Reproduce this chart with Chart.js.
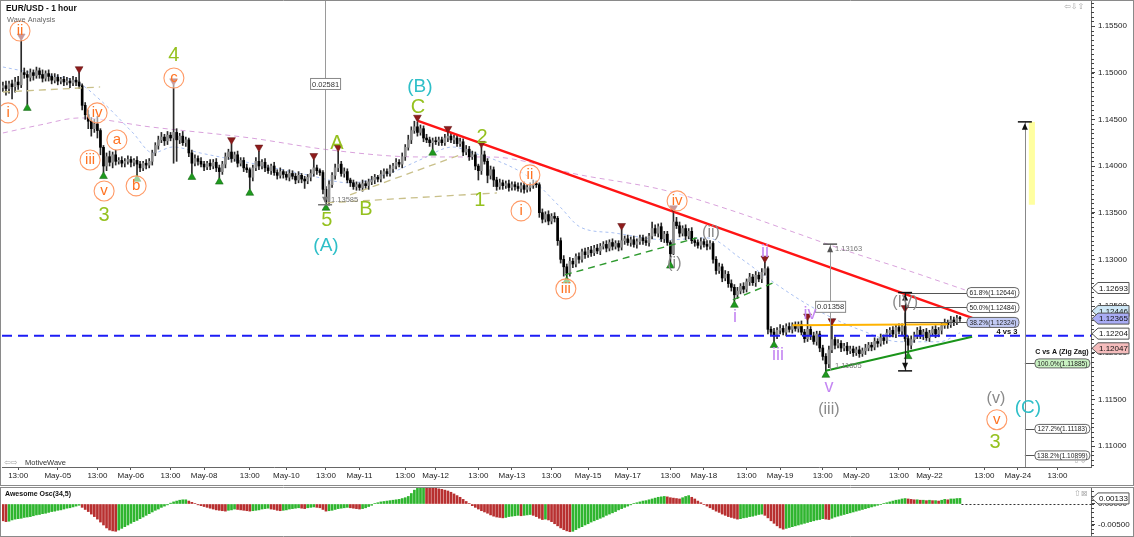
<!DOCTYPE html>
<html><head><meta charset="utf-8">
<script src="https://cdn.jsdelivr.net/npm/chart.js@4.4.1/dist/chart.umd.min.js"></script>
<style>
html,body{margin:0;padding:0;background:#fff;}
#wrap{position:relative;width:1134px;height:537px;overflow:hidden;background:#fff;}
#main{position:absolute;left:0;top:0;}
#osc{position:absolute;left:0;top:487px;}
</style></head><body>
<div id="wrap"><canvas id="main" width="1134" height="486"></canvas><canvas id="osc" width="1134" height="50"></canvas></div>
<script>
const FONT = "'Liberation Sans', Arial, sans-serif";

// ---------- price data (pips above 1.1000, hourly bars) ----------
const firstOpen = 484;
const closes = [
486,483,488,485,490,487,500,498,495,500,
497,502,498,494,499,496,492,495,491,493,
490,491,489,492,490,486,465,455,448,440,
445,438,420,400,410,404,412,405,406,403,
405,407,404,406,402,398,403,401,405,414,
422,428,431,427,433,430,436,428,432,425,
428,414,403,408,405,402,399,403,400,404,
398,394,402,410,415,408,412,403,406,398,
396,388,398,405,400,404,398,395,400,393,
390,394,391,388,392,389,385,390,386,384,
388,392,398,395,393,375,362,380,390,398,
402,392,394,385,382,378,380,377,381,379,
383,385,388,386,391,394,392,397,400,404,
402,410,420,428,438,442,436,440,430,428,
425,427,426,428,425,430,432,428,430,424,
426,415,418,410,412,400,395,412,405,390,
396,385,378,382,379,381,377,380,378,376,
379,375,377,379,381,380,350,343,348,341,
346,344,320,300,292,285,298,295,303,300,
308,305,310,307,312,309,314,316,312,318,
314,317,313,320,322,318,321,316,319,323,
320,318,325,333,328,335,322,327,318,306,
340,336,328,333,325,330,320,318,315,319,
316,314,317,300,288,292,280,284,274,270,
262,266,271,268,276,281,275,283,279,286,
290,225,222,218,224,226,222,228,225,229,
226,230,222,215,225,218,212,220,205,196,
188,203,214,208,210,205,207,202,204,200,
203,199,202,205,208,206,212,210,216,213,
221,224,220,227,223,228,215,208,214,219,
224,218,222,216,221,225,220,224,229,232,
230,235,233,237,236.5];
const wickUp = [
4,5,3,4,5,6,35,5,4,4, 3,4,3,5,3,4,3,4,3,2, 3,4,3,4,3,10,2,3,5,4, 5,8,2,2,4,6,3,5,3,4,
3,4,3,2,4,3,2,4,3,3, 3,4,5,3,4,3,51,4,3,5, 3,2,3,4,3,4,3,2,4,3, 4,3,3,4,3,9,3,4,3,3,
4,2,3,4,11,3,4,3,2,4, 3,4,2,3,4,3,3,4,2,3, 3,4,9,3,2,2,3,4,3,4, 14,3,4,3,2,3,3,2,4,3,
3,4,3,2,4,3,3,4,3,4, 3,4,3,5,4,6,5,4,3,4, 3,3,4,3,3,4,4,3,3,3, 4,3,4,3,4,3,2,8,4,3,
4,3,3,4,3,3,4,3,3,4, 3,4,3,3,4,3,2,4,3,4, 3,4,2,3,4,3,4,3,3,4, 3,4,3,4,3,4,3,3,4,3,
4,3,3,12,3,4,3,4,3,3, 3,4,3,7,4,3,4,3,3,2, 11,5,4,3,4,3,4,3,3,4, 3,4,3,2,3,4,3,4,3,4,
3,4,3,4,3,4,3,4,3,4, 7,2,3,4,3,4,3,3,4,3, 4,3,4,3,10,3,4,3,3,3, 3,4,16,3,4,3,3,4,3,3,
3,4,3,4,3,3,4,3,4,3, 4,3,4,3,4,3,15,3,4,3, 3,4,3,4,3,3,4,3,3,4, 3,4,3,3,2];
const wickDown = [
4,7,5,13,6,5,3,4,29,4, 5,3,4,4,3,5,4,3,4,3, 4,3,5,3,4,3,5,5,8,8, 4,8,8,7,5,4,6,4,3,4,
4,3,5,4,12,4,3,4,3,4, 3,4,3,5,4,3,27,23,4,3, 4,4,11,3,4,3,4,3,4,3, 4,7,3,4,3,4,3,4,3,4,
3,13,4,3,4,3,4,3,4,3, 4,3,4,3,4,3,4,3,4,8, 3,4,3,4,3,5,3.5,4,3,4, 4,3,4,3,4,3,4,3,4,3,
4,3,4,3,3,4,3,3,4,3, 3,4,4,3,4,3,4,3,4,3, 4,7,3,4,3,3,4,3,4,3, 3,4,3,4,3,4,10,4,3,8,
4,7,4,3,4,3,4,3,4,3, 4,4,3,4,3,3,5,4,3,4, 3,4,5,4,10,4,3,4,3,4, 3,4,3,4,3,3,4,3,4,3,
4,3,4,3,4,3,4,3,4,3, 4,3,4,3,3,4,3,4,3,9, 1,3,4,3,4,3,3,4,3,4, 3,4,3,4,4,3,4,3,4,4,
7,4,3,4,3,4,3,4,3,4, 3,5,3,6,3,4,3,4,3,4, 3,4,3,4,3,4,3,4,4,4, 7.5,4,3,4,3,4,3,4,3,4,
3,4,3,4,3,4,3,4,3,4, 3,4,3,4,3,4,3,8,4,3, 4,3,4,3,4,3,4,3,4,3, 4,3,4,3,3];

// Awesome Oscillator (units of 0.0001)
const aoValues = [
-40,-42,-41,-38,-36,-35,-34,-32,-31,-30, -28,-26,-25,-23,-22,-20,-18,-17,-15,-14,
-12,-10,-9,-7,-5,-3,-8,-13,-18,-24, -30,-36,-43,-50,-57,-62,-64,-65,-62,-58,
-54,-50,-46,-42,-39,-35,-31,-27,-23,-19, -15,-12,-8,-5,-2,2,5,7,9,10,
10,7,4,1,-2,-4,-6,-8,-10,-12, -14,-15,-16,-17,-15,-14,-12,-13,-14,-15,
-16,-17,-16,-15,-14,-12,-11,-10,-12,-13, -15,-16,-15,-14,-12,-11,-10,-9,-10,-11,
-9,-8,-7,-8,-9,-13,-17,-16,-15,-13, -11,-10,-9,-8,-9,-10,-11,-12,-11,-9,
-6,-3,1,3,5,6,7,8,9,10, 11,13,15,18,25,33,40,45,47,46,
43,40,38,36,35,33,31,28,24,20, 16,11,6,1,-4,-8,-12,-16,-19,-22,
-26,-29,-31,-32,-33,-32,-30,-29,-28,-27, -28,-27,-26,-25,-27,-30,-34,-37,-36,-38,
-42,-47,-52,-57,-61,-64,-66,-65,-61,-57, -54,-50,-47,-43,-40,-37,-34,-31,-27,-24,
-21,-18,-14,-11,-8,-5,-2,1,3,5, 7,8,10,12,14,16,17,18,17,15,
14,13,12,15,18,20,16,12,7,3, -1,-5,-9,-13,-17,-20,-24,-27,-30,-32,
-34,-36,-35,-33,-32,-30,-29,-27,-25,-24, -27,-33,-40,-46,-52,-57,-60,-58,-56,-54,
-52,-50,-48,-46,-44,-42,-40,-38,-37,-35, -36,-37,-34,-31,-29,-27,-25,-23,-21,-19,
-17,-15,-13,-11,-9,-7,-5,-3,-1,1, 3,5,7,9,10,12,13,12,11,10,
10,9,9,8,9,8,8,7,9,11, 10,12,12,13,13.3];

// ---------- axes ----------
const xTickBars   = [5,18,31,42,55,66,81,93,106,117,132,142,156,167,180,192,205,219,230,244,255,269,280,294,304,322,333,346];
const xTickLabels = ['13:00','May-05','13:00','May-06','13:00','May-08','13:00','May-10','13:00','May-11','13:00','May-12','13:00','May-13','13:00','May-15','May-17','13:00','May-18','13:00','May-19','13:00','May-20','13:00','May-22','13:00','May-24','13:00'];
const yMajorTicks = [1.110,1.115,1.120,1.125,1.130,1.135,1.140,1.145,1.150,1.155];
const oscTicks = [-0.005, 0];

// ---------- drawn studies ----------
const blueLevelBars=[-0.3,357], blueLevelPrices=[1.12181,1.12181];
const redTrendBars=[136.2,318], redTrendPrices=[1.14483,1.12374];
const greenTrendBars=[270,318], greenTrendPrices=[1.11806,1.12170];
const orangeLevelBars=[259,310], orangeLevelPrices=[1.12295,1.12305];
const khaki1Bars=[0,31.9], khaki1Prices=[1.14793,1.14847];
const khaki2Bars=[106.3,162.1], khaki2Prices=[1.13605,1.13712];
const khaki3Bars=[113.9,150], khaki3Prices=[1.13691,1.14119];
const greenDash1Bars=[184.4,227.7], greenDash1Prices=[1.12834,1.13230];
const greenDash2Bars=[239.5,252.7], greenDash2Prices=[1.12566,1.12748];
const slowMaBars=[0,12.2,25.3,48.3,81.1,107.3,136.8,159.8,189.3,216.6,238.5,257.3,277.9,294.3,315.6];
const slowMaPrices=[1.14354,1.14440,1.14515,1.14419,1.14301,1.14172,1.14097,1.14097,1.13905,1.13744,1.13530,1.13316,1.13080,1.12909,1.12673];
const fastMaBars=[0,9.9,24.3,31.9,42.7,49.2,55.8,64.7,81.1,99.8,113.9,128,136.8,147.7,154.2,159.8,172.9,182.8,189.3,200.2,217.9,231,241.8,251.7,261.5,271.4,281.2,294.3,307.4,314];
const fastMaPrices=[1.15061,1.14997,1.14900,1.14708,1.14354,1.14140,1.14204,1.14140,1.14033,1.13905,1.13819,1.13937,1.14065,1.14204,1.14140,1.14087,1.13873,1.13562,1.13348,1.13284,1.13209,1.13230,1.13016,1.12780,1.12566,1.12384,1.12245,1.12117,1.12117,1.12213];

const redTriBars=[6,25,56,75,84,102,110,136,146,157,203,220,250,264,272,296];
const redTriPrices=[1.1539,1.1504,1.1491,1.1428,1.1420,1.1411,1.1420,1.1452,1.1440,1.1424,1.1336,1.1355,1.1301,1.1239,1.1234,1.1248];
const greenTriBars=[8,33,44,62,71,81,106,141,185,219,240,253,270,297];
const greenTriPrices=[1.1462,1.1389,1.1386,1.1388,1.1383,1.1371,1.1355,1.1414,1.1277,1.1293,1.1251,1.1208,1.1176,1.1196];

const waveText =['ii','i','iv','a','iii','v','b','c','ii','i','iii','iv','v',
 '4','3','A','5','B','C','2','1','3',
 '(A)','(B)','(C)',
 '(i)','(ii)','(iii)','(IV)','(v)',
 'ii','i','iii','iv','v'];
const waveGroup=['o','o','o','o','o','o','o','o','o','o','o','o','o',
 'g','g','g','g','g','g','g','g','g',
 'c','c','c',
 's','s','s','s','s',
 'v','v','v','v','v'];
const waveBar  =[5.6,1.7,30.9,37.4,28.6,33.2,43.7,56.1,172.9,170,184.7,221.2,326.1,
 56.1,33.2,109.6,106.3,119.1,136.2,157.2,156.5,325.5,
 106,136.8,336.3,
 220.3,232.3,271,296,325.8,
 250,240.2,254.3,264.8,271];
const wavePrice=[1.15446,1.14569,1.14569,1.14279,1.14065,1.13733,1.13787,1.14943,1.13905,1.13519,1.12684,1.13626,1.11282,
 1.15190,1.13476,1.14247,1.13423,1.13541,1.14633,1.14312,1.13637,1.11046,
 1.13155,1.14858,1.11421,
 1.12963,1.13294,1.11399,1.12545,1.11517,
 1.13091,1.12395,1.11988,1.12427,1.11646];

const measureBars=[105.7,271.4,296,335.3];
const measureFrom=[1.13585,1.11805,1.11805,1.10775];
const measureTo  =[1.16166,1.13163,1.12644,1.14473];
const measureText=['0.02581','0.01358','',''];
const measureTextPrice=[1.14879,1.12491,0,0];
const targetBoxBars=[336.6,338.6], targetBoxPrices=[1.14473,1.13585];

const fibLevels=[1.12644,1.12484,1.12324], fibPcts=['61.8%','50.0%','38.2%'];
const fibFromBar=296, fibLabelBar=316.3;
const cvaLevels=[1.11885,1.11183,1.10899], cvaPcts=['100.0%','127.2%','138.2%'];
const cvaBar=335.3;
const axisMarkPrices=[1.12693,1.12446,1.12365,1.12204,1.12047];
const axisMarkFills=['#ffffff','#cfe8f7','#a9acf5','#ffffff','#f5bcbc'];
const aoLast=0.00133;

// ---------- build datasets ----------
const P = v => 1.1 + v/10000;
const opens = closes.map((c,i)=> i===0 ? firstOpen : closes[i-1]);
const wickData = closes.map((c,i)=>({x:i, y:[P(Math.min(opens[i],c)-wickDown[i]), P(Math.max(opens[i],c)+wickUp[i])]}));
const bodyData = closes.map((c,i)=>({x:i, y:[P(Math.min(opens[i],c)), P(Math.max(opens[i],c))]}));
const bodyColors = closes.map((c,i)=> c>=opens[i] ? '#8a8a8a' : '#000000');
const pts = (bs,ps)=> bs.map((b,k)=>({x:b,y:ps[k]}));
function lineDS(bs,ps,color,width,dash,order,tension){
  return {type:'line',data:pts(bs,ps),borderColor:color,borderWidth:width,borderDash:dash||[],pointRadius:0,fill:false,order:order,tension:tension||0,cubicInterpolationMode: tension?'monotone':'default'};
}
const noPad = s => { s.paddingTop=0; s.paddingBottom=0; s.paddingLeft=0; s.paddingRight=0; };

const X=(c,v)=>c.scales.x.getPixelForValue(v);
const Y=(c,v)=>c.scales.y.getPixelForValue(v);
function rrect(ctx,x,y,w,h,r){ctx.beginPath();ctx.moveTo(x+r,y);ctx.arcTo(x+w,y,x+w,y+h,r);ctx.arcTo(x+w,y+h,x,y+h,r);ctx.arcTo(x,y+h,x,y,r);ctx.arcTo(x,y,x+w,y,r);ctx.closePath();}
function tbar(ctx,x,y,dir,col){
  ctx.strokeStyle=col;ctx.lineWidth=1.5;ctx.beginPath();ctx.moveTo(x-7,y);ctx.lineTo(x+7,y);ctx.stroke();
  ctx.fillStyle=col;ctx.beginPath();ctx.moveTo(x,y+dir*1.5);ctx.lineTo(x-3,y+dir*8);ctx.lineTo(x+3,y+dir*8);ctx.closePath();ctx.fill();
}
const waveStyles={
  o:{color:'#ff7322',size:15,circle:true,r:10,ring:'#ff9a66'},
  g:{color:'#95c11f',size:20},
  c:{color:'#2ebfc8',size:19},
  s:{color:'#8a8a8a',size:16},
  v:{color:'#c486f2',size:18}
};

const mainDecor={
  id:'mainDecor',
  afterDatasetsDraw(c){
    const ctx=c.ctx,a=c.chartArea;
    ctx.save();
    ctx.beginPath();ctx.rect(a.left,a.top,a.right-a.left,a.bottom-a.top);ctx.clip();
    const bx0=X(c,targetBoxBars[0]),bx1=X(c,targetBoxBars[1]),by0=Y(c,targetBoxPrices[0]),by1=Y(c,targetBoxPrices[1]);
    ctx.fillStyle='rgba(255,255,150,0.9)';ctx.fillRect(bx0,by0,bx1-bx0,by1-by0);
    ctx.strokeStyle='#555';ctx.lineWidth=1;
    fibLevels.forEach(l=>{const y=Math.round(Y(c,l))+0.5;ctx.beginPath();ctx.moveTo(X(c,fibFromBar),y);ctx.lineTo(X(c,fibLabelBar),y);ctx.stroke();});
    cvaLevels.forEach(l=>{const y=Math.round(Y(c,l))+0.5;ctx.beginPath();ctx.moveTo(X(c,cvaBar),y);ctx.lineTo(X(c,cvaBar)+10,y);ctx.stroke();});
    const mcol=['#9a9a9a','#9a9a9a','#222','#888'];
    measureBars.forEach((b,k)=>{
      const x=Math.round(X(c,b))+0.5;
      ctx.strokeStyle=mcol[k];ctx.lineWidth=k===2?1.2:1;
      ctx.beginPath();ctx.moveTo(x,Y(c,measureFrom[k]));ctx.lineTo(x,Y(c,measureTo[k]));ctx.stroke();
    });
    tbar(ctx,X(c,measureBars[0]),Y(c,measureFrom[0]),-1,'#777');
    tbar(ctx,X(c,measureBars[1]),Y(c,measureTo[1]),1,'#555');
    tbar(ctx,X(c,measureBars[2]),Y(c,measureTo[2]),1,'#111');
    tbar(ctx,X(c,measureBars[2]),Y(c,measureFrom[2]),-1,'#111');
    tbar(ctx,X(c,measureBars[3]),Y(c,measureTo[3]),1,'#111');
    ctx.restore();
    ctx.save();
    ctx.font='7.5px '+FONT;ctx.textAlign='center';ctx.textBaseline='middle';
    [0,1].forEach(k=>{
      const x=X(c,measureBars[k]),y=Y(c,measureTextPrice[k]);
      ctx.fillStyle='#fff';ctx.strokeStyle='#888';ctx.lineWidth=1;
      ctx.fillRect(x-14.5,y-5.5,30,11);ctx.strokeRect(x-14.5,y-5.5,30,11);
      ctx.fillStyle='#333';ctx.fillText(measureText[k],x+0.5,y+0.5);
    });
    ctx.textAlign='left';ctx.fillStyle='#777';
    ctx.fillText(measureFrom[0].toFixed(5),X(c,measureBars[0])+6,Y(c,measureFrom[0])-5);
    ctx.fillText(measureTo[1].toFixed(5),X(c,measureBars[1])+5,Y(c,measureTo[1])+5);
    ctx.fillText(measureFrom[1].toFixed(5),X(c,measureBars[1])+5,Y(c,measureFrom[1])-5);
    fibLevels.forEach((l,k)=>{
      const x=X(c,fibLabelBar),y=Y(c,l);
      rrect(ctx,x,y-5,52,10,4);ctx.fillStyle=k===2?'#c3cbf5':'#fff';ctx.fill();ctx.strokeStyle='#666';ctx.lineWidth=1;ctx.stroke();
      ctx.fillStyle='#222';ctx.font='6.6px '+FONT;ctx.textAlign='center';ctx.fillText(fibPcts[k]+'('+l.toFixed(5)+')',x+26,y+0.5);
    });
    ctx.font='bold 7.5px '+FONT;ctx.fillStyle='#111';ctx.textAlign='center';
    ctx.fillText('4 vs 3',X(c,fibLabelBar)+40,Y(c,fibLevels[2])+10);
    cvaLevels.forEach((l,k)=>{
      const x=X(c,cvaBar)+10,y=Y(c,l);
      rrect(ctx,x,y-4.5,55,9,4);ctx.fillStyle=k===0?'#c9f2c2':'#fff';ctx.fill();ctx.strokeStyle='#666';ctx.lineWidth=1;ctx.stroke();
      ctx.fillStyle='#222';ctx.font='6.6px '+FONT;ctx.textAlign='center';ctx.fillText(cvaPcts[k]+'('+l.toFixed(5)+')',x+27.5,y+0.5);
    });
    ctx.font='bold 7px '+FONT;ctx.fillStyle='#111';ctx.textAlign='center';
    ctx.fillText('C vs A (Zig Zag)',X(c,cvaBar)+37,Y(c,cvaLevels[0])-11);
    waveText.forEach((t,k)=>{
      const st=waveStyles[waveGroup[k]];const x=X(c,waveBar[k]),y=Y(c,wavePrice[k]);
      if(st.circle){ctx.beginPath();ctx.arc(x,y,st.r,0,Math.PI*2);ctx.fillStyle='rgba(255,255,255,0.55)';ctx.fill();ctx.strokeStyle=st.ring;ctx.lineWidth=1.1;ctx.stroke();}
      ctx.font=st.size+'px '+FONT;ctx.fillStyle=st.color;ctx.textAlign='center';ctx.textBaseline='middle';
      ctx.fillText(t,x,y+(st.circle?0:1));
    });
    ctx.restore();
  },
  afterDraw(c){
    const ctx=c.ctx,a=c.chartArea;
    ctx.save();
    ctx.strokeStyle='#444';ctx.lineWidth=1;
    for(let v=1.1080;v<1.1577;v+=0.0005){const y=Math.round(Y(c,v))+0.5;ctx.beginPath();ctx.moveTo(a.right,y);ctx.lineTo(a.right+3,y);ctx.stroke();}
    ctx.strokeStyle='#8a8a8a';
    ctx.beginPath();ctx.moveTo(0.5,0);ctx.lineTo(0.5,486);ctx.stroke();
    ctx.beginPath();ctx.moveTo(0,0.5);ctx.lineTo(1134,0.5);ctx.stroke();
    ctx.beginPath();ctx.moveTo(0,485.5);ctx.lineTo(1134,485.5);ctx.stroke();
    ctx.beginPath();ctx.moveTo(1133.5,0);ctx.lineTo(1133.5,486);ctx.stroke();
    axisMarkPrices.forEach((p,k)=>{
      const y=Y(c,p),x0=a.right+1;
      ctx.beginPath();ctx.moveTo(x0,y);ctx.lineTo(x0+6,y-5.5);ctx.lineTo(x0+37,y-5.5);ctx.lineTo(x0+37,y+5.5);ctx.lineTo(x0+6,y+5.5);ctx.closePath();
      ctx.fillStyle=axisMarkFills[k];ctx.fill();ctx.strokeStyle='#555';ctx.lineWidth=1;ctx.stroke();
      ctx.fillStyle='#111';ctx.font='8px '+FONT;ctx.textAlign='left';ctx.textBaseline='middle';ctx.fillText(p.toFixed(5),x0+7,y+0.5);
    });
    ctx.textAlign='left';ctx.textBaseline='alphabetic';
    ctx.fillStyle='#111';ctx.font='bold 8.4px '+FONT;ctx.fillText('EUR/USD - 1 hour',6,11);
    ctx.fillStyle='#666';ctx.font='7.4px '+FONT;ctx.fillText('Wave Analysis',7,22);
    ctx.fillStyle='#333';ctx.font='7.5px '+FONT;ctx.fillText('MotiveWave',25,465);
    ctx.fillStyle='#aaa';ctx.font='8px DejaVu Sans';ctx.fillText('\u21E6\u21E8',4,465);
    ctx.fillText('\u21E6\u21E9\u21E7',1064,9);
    ctx.fillText('\u21E7\u21E9',1073,463);
    ctx.restore();
  }
};

new Chart(document.getElementById('main'),{
  type:'bar',
  data:{datasets:[
    {type:'bar',data:wickData,backgroundColor:'#2a2a2a',barThickness:1,grouped:false,order:20},
    {type:'bar',data:bodyData,backgroundColor:bodyColors,barThickness:2,minBarLength:1,grouped:false,order:19},
    lineDS(slowMaBars,slowMaPrices,'#d9a2dc',1,[5,4],30,0.4),
    lineDS(fastMaBars,fastMaPrices,'#a9c0f2',1,[3,3],30,0.4),
    lineDS(khaki1Bars,khaki1Prices,'#c9c08a',1.3,[7,5],3),
    lineDS(khaki2Bars,khaki2Prices,'#c9c08a',1.3,[7,5],3),
    lineDS(khaki3Bars,khaki3Prices,'#c9c08a',1.3,[7,5],3),
    lineDS(greenDash1Bars,greenDash1Prices,'#2f9a2f',1.4,[7,5],3),
    lineDS(greenDash2Bars,greenDash2Prices,'#2f9a2f',1.4,[7,5],3),
    lineDS(blueLevelBars,blueLevelPrices,'#1c1cf5',2,[10,6],3),
    lineDS(orangeLevelBars,orangeLevelPrices,'#ffb300',2,[],2),
    lineDS(redTrendBars,redTrendPrices,'#ff1414',2.4,[],2),
    lineDS(greenTrendBars,greenTrendPrices,'#1a941a',2,[],2),
    {type:'scatter',data:pts(redTriBars,redTriPrices),pointStyle:'triangle',rotation:180,pointRadius:4.5,backgroundColor:'#8e1b1b',borderColor:'#5c1010',borderWidth:0.5,order:1},
    {type:'scatter',data:pts(greenTriBars,greenTriPrices),pointStyle:'triangle',rotation:0,pointRadius:4.5,backgroundColor:'#1e9a1e',borderColor:'#0f5a0f',borderWidth:0.5,order:1}
  ]},
  options:{
    responsive:false,animation:false,
    layout:{autoPadding:false,padding:{left:2,top:1,right:0,bottom:0}},
    plugins:{legend:{display:false},tooltip:{enabled:false}},
    scales:{
      x:{type:'linear',min:-0.3,max:357,offset:false,
        afterBuildTicks:s=>{s.ticks=xTickBars.map(v=>({value:v}));},
        ticks:{autoSkip:false,maxRotation:0,padding:1,color:'#222',font:{size:8,family:FONT},callback:(v,i)=>xTickLabels[i]},
        grid:{display:true,drawOnChartArea:false,drawTicks:true,tickLength:3,color:'#555',offset:false},
        border:{display:true,color:'#666'},
        afterFit:s=>{s.height=19;noPad(s);}
      },
      y:{type:'linear',position:'right',min:1.10775,max:1.15768,
        afterBuildTicks:s=>{s.ticks=yMajorTicks.map(v=>({value:v}));},
        ticks:{autoSkip:false,padding:3,color:'#222',font:{size:8,family:FONT,lineHeight:0.01},callback:v=>v.toFixed(5)},
        grid:{display:true,drawOnChartArea:false,drawTicks:true,tickLength:4,color:'#444'},
        border:{display:true,color:'#666'},
        afterFit:s=>{s.width=43;noPad(s);}
      }
    }
  },
  plugins:[mainDecor]
});

// ---------- oscillator ----------
const aoData=aoValues.map((v,i)=>({x:i,y:v/10000}));
const aoColors=aoValues.map((v,i)=> (i>0 && v>=aoValues[i-1]) ? '#2fb52f' : '#b83030');
const oscDecor={
  id:'oscDecor',
  afterDraw(c){
    const ctx=c.ctx,a=c.chartArea;
    ctx.save();
    const y0=Math.round(Y(c,0))+0.5;
    ctx.strokeStyle='#333';ctx.setLineDash([2,2]);ctx.lineWidth=1;
    ctx.beginPath();ctx.moveTo(X(c,aoValues.length-0.5),y0);ctx.lineTo(a.right,y0);ctx.stroke();
    ctx.setLineDash([]);
    ctx.strokeStyle='#444';
    for(let v=-0.007;v<=0.0035;v+=0.001){const y=Math.round(Y(c,v))+0.5;ctx.beginPath();ctx.moveTo(a.right,y);ctx.lineTo(a.right+3,y);ctx.stroke();}
    ctx.strokeStyle='#8a8a8a';
    ctx.beginPath();ctx.moveTo(0,0.5);ctx.lineTo(1134,0.5);ctx.stroke();
    ctx.beginPath();ctx.moveTo(0.5,0);ctx.lineTo(0.5,50);ctx.stroke();
    ctx.beginPath();ctx.moveTo(1133.5,0);ctx.lineTo(1133.5,50);ctx.stroke();
    ctx.beginPath();ctx.moveTo(0,49.5);ctx.lineTo(1134,49.5);ctx.stroke();
    const y=Y(c,aoLast),x0=a.right+1;
    ctx.beginPath();ctx.moveTo(x0,y);ctx.lineTo(x0+6,y-5.5);ctx.lineTo(x0+37,y-5.5);ctx.lineTo(x0+37,y+5.5);ctx.lineTo(x0+6,y+5.5);ctx.closePath();
    ctx.fillStyle='#fff';ctx.fill();ctx.strokeStyle='#555';ctx.stroke();
    ctx.fillStyle='#111';ctx.font='8px '+FONT;ctx.textBaseline='middle';ctx.textAlign='left';ctx.fillText(aoLast.toFixed(5),x0+7,y+0.5);
    ctx.textBaseline='alphabetic';ctx.font='bold 7px '+FONT;ctx.fillText('Awesome Osc(34,5)',5,9);
    ctx.fillStyle='#aaa';ctx.font='8px DejaVu Sans';ctx.fillText('\u21E7\u22A0',1074,9);
    ctx.restore();
  }
};
new Chart(document.getElementById('osc'),{
  type:'bar',
  data:{datasets:[{data:aoData,backgroundColor:aoColors,barThickness:2,grouped:false}]},
  options:{
    responsive:false,animation:false,
    layout:{autoPadding:false,padding:{left:2,top:1,right:0,bottom:1}},
    plugins:{legend:{display:false},tooltip:{enabled:false}},
    scales:{
      x:{type:'linear',min:-0.3,max:357,offset:false,display:false,afterFit:noPad},
      y:{type:'linear',position:'right',min:-0.00762,max:0.00381,
        afterBuildTicks:s=>{s.ticks=oscTicks.map(v=>({value:v}));},
        ticks:{autoSkip:false,padding:3,color:'#222',font:{size:8,family:FONT,lineHeight:0.01},callback:v=>v.toFixed(5)},
        grid:{display:true,drawOnChartArea:false,drawTicks:true,tickLength:4,color:'#444'},
        border:{display:true,color:'#666'},
        afterFit:s=>{s.width=43;noPad(s);}
      }
    }
  },
  plugins:[oscDecor]
});
</script>
</body></html>
